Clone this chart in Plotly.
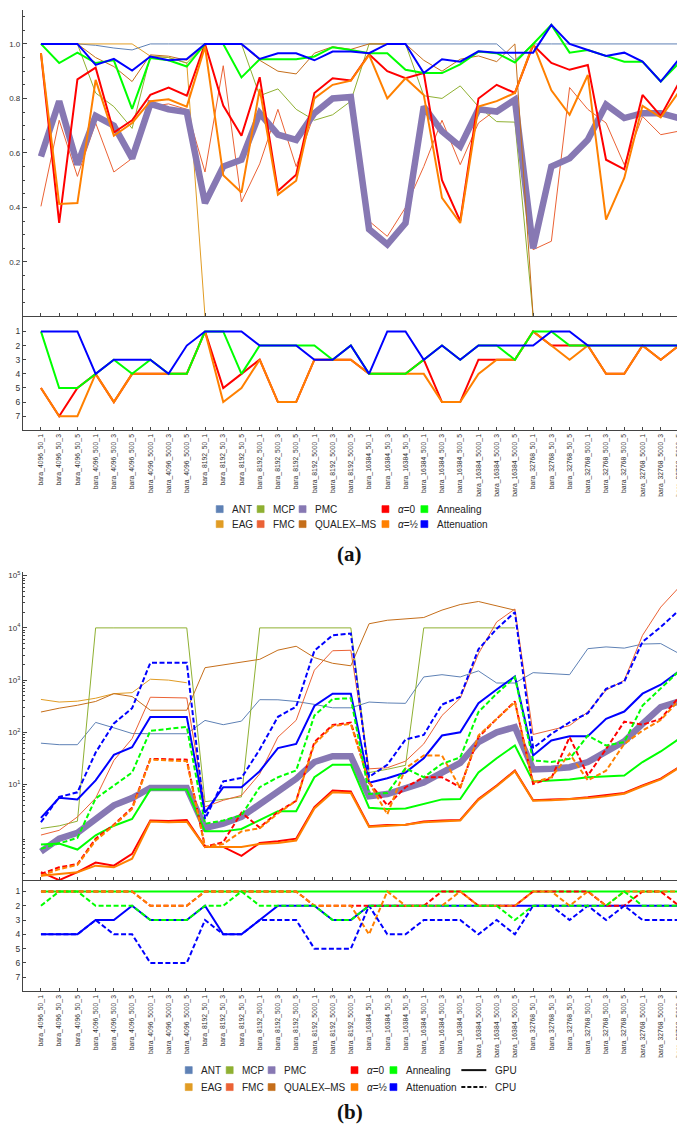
import plotly.graph_objects as go

W, H = 685, 1128

categories = [
    "bara_4096_50_1", "bara_4096_50_3", "bara_4096_50_5", "bara_4096_500_1", "bara_4096_500_3", "bara_4096_500_5", "bara_4096_5000_1", "bara_4096_5000_3", "bara_4096_5000_5",
    "bara_8192_50_1", "bara_8192_50_3", "bara_8192_50_5", "bara_8192_500_1", "bara_8192_500_3", "bara_8192_500_5", "bara_8192_5000_1", "bara_8192_5000_3", "bara_8192_5000_5",
    "bara_16384_50_1", "bara_16384_50_3", "bara_16384_50_5", "bara_16384_500_1", "bara_16384_500_3", "bara_16384_500_5", "bara_16384_5000_1", "bara_16384_5000_3", "bara_16384_5000_5",
    "bara_32768_50_1", "bara_32768_50_3", "bara_32768_50_5", "bara_32768_500_1", "bara_32768_500_3", "bara_32768_500_5", "bara_32768_5000_1", "bara_32768_5000_3", "bara_32768_5000_5",
]
N8 = [None] * 8

# ---------------- panel (a): quality ----------------
ant_a = [1.0, 1.0, 1.0, 0.995, 0.985, 0.978, 1.0, 1.0, 1.0,
         1.0, 1.0, 1.0, 1.0, 1.0, 1.0, 1.0, 1.0, 1.0,
         1.0, 1.0, 1.0, 1.0, 1.0, 1.0, 1.0, 1.0, 0.94,
         1.0, 1.0, 1.0, 1.0, 1.0, 1.0, 1.0, 1.0, 1.0]
eag_a = [1.0, 1.0, 1.0, 1.0, 1.0, 1.0, 0.955, 0.95, 0.93, 0.0] + [None] * 26
mcp_a = [1.0, 1.0, 1.0, 0.82, 0.77, 0.69, 0.955, 0.95, 0.93,
         1.0, 1.0, 1.0, 0.81, 0.835, 0.76, 0.72, 0.74, 0.79,
         1.0, 1.0, 1.0, 0.81, 0.80, 0.846, 0.77, 0.715, 0.713,
         0.0] + N8
fmc_a = [0.404, 0.72, 0.514, 0.71, 0.53, 0.58, 0.77, 0.78, 0.76,
         0.53, 0.92, 0.42, 0.56, 0.76, 0.55, 0.745, 0.80, 0.795,
         0.35, 0.294, 0.40, 0.55, 0.72, 0.557, 0.71, 0.76, 0.80,
         0.245, 0.276, 0.84, 0.76, 0.71, 0.557, 0.734, 0.667, 0.68]
pmc_a = [0.587, 0.79, 0.557, 0.736, 0.70, 0.58, 0.78, 0.76, 0.75,
         0.416, 0.55, 0.575, 0.746, 0.667, 0.648, 0.746, 0.80, 0.805,
         0.32, 0.264, 0.343, 0.77, 0.68, 0.624, 0.76, 0.752, 0.795,
         0.25, 0.55, 0.58, 0.648, 0.777, 0.728, 0.746, 0.746, 0.728]
qualex_a = [1.0, 1.0, 1.0, 0.95, 0.917, 0.862, 0.96, 0.955, 0.94,
            1.0, 1.0, 1.0, 0.94, 0.90, 0.89, 0.966, 0.99, 0.98,
            1.0, 1.0, 1.0, 0.94, 0.90, 0.944, 0.956, 0.935, 1.0,
            0.0] + N8
alpha0_a = [0.966, 0.343, 0.87, 0.913, 0.675, 0.72, 0.813, 0.84, 0.81,
            1.0, 0.774, 0.663, 0.878, 0.46, 0.52, 0.82, 0.874, 0.866,
            0.962, 0.90, 0.874, 0.893, 0.50, 0.35, 0.80, 0.85, 0.82,
            0.996, 0.93, 0.905, 0.923, 0.575, 0.54, 0.813, 0.736, 0.858]
alpha12_a = [0.966, 0.413, 0.416, 0.868, 0.663, 0.71, 0.79, 0.797, 0.77,
             0.99, 0.518, 0.455, 0.835, 0.447, 0.498, 0.80, 0.85, 0.865,
             0.96, 0.80, 0.874, 0.813, 0.435, 0.343, 0.77, 0.79, 0.82,
             1.0, 0.83, 0.74, 0.886, 0.355, 0.508, 0.773, 0.73, 0.825]
anneal_a = [1.0, 0.93, 0.968, 0.93, 0.94, 0.762, 0.948, 0.94, 0.917,
            1.0, 1.0, 0.877, 0.944, 0.944, 0.944, 0.954, 0.988, 0.978,
            0.966, 0.966, 0.905, 0.893, 0.893, 0.925, 0.972, 0.966, 0.932,
            1.0, 1.07, 0.968, 0.978, 0.956, 0.935, 0.935, 0.862, 0.93]
atten_a = [1.0, 1.0, 1.0, 0.923, 0.945, 0.902, 0.954, 0.94, 0.945,
           1.0, 1.0, 1.0, 0.945, 0.966, 0.966, 0.94, 0.972, 0.972,
           0.966, 1.0, 1.0, 0.893, 0.944, 0.935, 0.973, 0.968, 0.968,
           0.968, 1.07, 1.0, 0.978, 0.956, 0.968, 0.935, 0.862, 0.944]

rank_alpha0_a = [5, 7, 5, 4, 6, 4, 4, 4, 4, 1, 5, 4, 3, 6, 6, 3, 3, 3,
                 4, 4, 4, 3, 6, 6, 3, 3, 3, 1, 2, 2, 2, 4, 4, 2, 3, 2]
rank_alpha12_a = [5, 7, 7, 4, 6, 4, 4, 4, 4, 1, 6, 5, 3, 6, 6, 3, 3, 3,
                  4, 4, 4, 4, 6, 6, 4, 3, 3, 1, 2, 3, 2, 4, 4, 2, 3, 2]
rank_anneal_a = [1, 5, 5, 4, 3, 4, 3, 4, 4, 1, 1, 4, 2, 2, 2, 2, 3, 2,
                 4, 4, 4, 3, 2, 3, 2, 2, 3, 1, 1, 2, 2, 2, 2, 2, 2, 2]
rank_atten_a = [1, 1, 1, 4, 3, 3, 3, 4, 2, 1, 1, 1, 2, 2, 2, 3, 3, 2,
                4, 1, 1, 3, 2, 3, 2, 2, 2, 2, 1, 1, 2, 2, 2, 2, 2, 2]

# ---------------- panel (b): running time ----------------
ant_b = [62, 58, 58, 155, 122, 95, 94, 94, 94,
         169, 140, 164, 422, 420, 390, 343, 295, 295,
         380, 365, 359, 1150, 1270, 1150, 1500, 880, 880,
         1390, 1310, 1270, 4000, 4320, 4100, 4900, 5000, 3230]
eag_b = [427, 380, 395, 450, 550, 575, 1040, 1000, 890] + [None] * 27
mcp_b = [1.44, 1.62, 1.99, 1e4, 1e4, 1e4, 1e4, 1e4, 1e4,
         4.7, 5.2, 5.8, 1e4, 1e4, 1e4, 1e4, 1e4, 1e4,
         17, 19.6, 23.4, 1e4, 1e4, 1e4, 1e4, 1e4, 1e4] + [None] * 9
fmc_b = [1.08, 1.33, 2.4, 5.5, 29, 76, 470, 470, 455,
         3.75, 5.0, 6.2, 16, 81, 170, 1550, 3650, 3730,
         20, 21, 28, 60, 210, 450, 3200, 13000, 23000,
         91, 109, 135, 245, 640, 990, 7200, 25000, 59600]
pmc_b = [0.52, 0.92, 1.19, 2.2, 4.0, 5.5, 8.6, 8.6, 8.6,
         1.48, 1.78, 2.4, 4.3, 7.7, 12.9, 27, 35, 35,
         6.0, 6.6, 8.3, 11, 17, 26, 65, 100, 126,
         19.4, 20, 21.5, 27, 43, 67, 145, 305, 390]
qualex_b = [245, 290, 330, 390, 550, 485, 265, 265, 265,
            1730, 1960, 2220, 2500, 3750, 4450, 2700, 2100, 1880,
            12000, 14000, 15000, 15800, 21900, 28000, 32000, 26500, 21800] + [None] * 9
alpha0_gpu_b = [0.21, 0.148, 0.21, 0.32, 0.28, 0.47, 2.05, 2.0, 2.1,
                0.64, 0.64, 0.43, 0.76, 0.82, 0.92, 3.7, 7.7, 7.4,
                1.59, 1.68, 1.7, 1.96, 2.05, 2.1, 5.3, 9.6, 18.5,
                5.0, 5.2, 5.3, 5.7, 6.2, 6.9, 9.6, 13, 21.5]
alpha12_gpu_b = [0.18, 0.195, 0.21, 0.28, 0.26, 0.38, 1.96, 1.9, 1.95,
                 0.64, 0.64, 0.64, 0.73, 0.76, 0.85, 3.5, 7.1, 6.9,
                 1.55, 1.6, 1.7, 1.9, 2.0, 2.05, 5.1, 9.3, 18,
                 4.9, 5.0, 5.2, 5.5, 6.0, 6.7, 9.3, 12.6, 21]
anneal_gpu_b = [0.71, 0.74, 0.57, 1.07, 1.63, 2.2, 8, 8, 8,
                1.27, 1.27, 1.41, 2.1, 3.1, 3.1, 13.8, 24, 24,
                3.6, 3.4, 3.5, 4.3, 5.2, 5.3, 17, 32, 56,
                11.5, 12, 12.5, 13.8, 14.4, 14.9, 27, 43, 75]
atten_gpu_b = [2.3, 5.6, 5.2, 12, 37, 52, 197, 197, 197,
               2.9, 8.9, 8.9, 18, 50, 60, 320, 550, 550,
               10.8, 13.2, 17, 32, 87, 100, 360, 660, 1170,
               36, 70, 84, 84, 182, 250, 550, 815, 1480]
alpha0_cpu_b = [0.195, 0.26, 0.30, 0.92, 1.7, 3.6, 31, 30, 30,
                0.64, 0.79, 2.9, 1.5, 3.0, 4.9, 65, 138, 154,
                11, 4, 8.9, 13.8, 13.8, 8.9, 81, 181, 390,
                10.3, 13.2, 81, 14.9, 48, 160, 140, 181, 470]
alpha12_cpu_b = [0.18, 0.24, 0.29, 0.85, 1.65, 3.4, 30, 29, 28,
                 0.64, 0.73, 1.27, 1.46, 2.8, 4.9, 60, 132, 145,
                 11, 2.7, 20.5, 36, 36, 8.6, 87, 181, 380,
                 11, 13.8, 39, 12, 18.5, 60, 108, 172, 410]
anneal_cpu_b = [0.59, 0.74, 0.95, 5.4, 9.6, 17, 107, 117, 127,
                1.78, 2.05, 2.6, 8.9, 13.8, 18.6, 210, 435, 450,
                6.6, 6.9, 20.5, 13.8, 25, 33, 245, 550, 1140,
                29, 27, 31, 87, 56, 65, 325, 680, 1480]
atten_cpu_b = [1.9, 5.8, 7.1, 41, 148, 290, 2150, 2150, 2150,
               2.2, 11.5, 13.4, 47, 198, 310, 3650, 7200, 7800,
               14, 24, 73, 89, 340, 480, 3900, 9600, 20000,
               50, 93, 156, 233, 680, 940, 5400, 10400, 21700]

rank_anneal_gpu_b = [1] * 36
rank_atten_gpu_b = [4, 4, 4, 3, 3, 2, 3, 3, 3, 2, 4, 4, 3, 2, 2, 2, 3, 3,
                    2, 2, 2, 2, 2, 2, 2, 2, 2, 2, 2, 2, 2, 2, 2, 2, 2, 2]
rank_alpha0_cpu_b = [1, 1, 1, 1, 1, 1, 2, 2, 2, 1, 1, 1, 1, 1, 1, 2, 2, 2,
                     2, 2, 2, 2, 1, 1, 2, 2, 2, 1, 1, 1, 1, 2, 2, 1, 1, 2]
rank_alpha12_cpu_b = [1, 1, 1, 1, 1, 1, 2, 2, 2, 1, 1, 1, 1, 1, 1, 2, 2, 2,
                      4, 1, 2, 2, 2, 1, 2, 2, 2, 1, 1, 2, 1, 2, 1, 1, 1, 1]
rank_anneal_cpu_b = [2, 1, 1, 2, 2, 2, 3, 3, 3, 2, 2, 1, 2, 2, 2, 2, 3, 3,
                     2, 2, 2, 2, 2, 2, 2, 2, 3, 2, 2, 2, 2, 2, 1, 2, 2, 2]
rank_atten_cpu_b = [4, 4, 4, 3, 4, 4, 6, 6, 6, 3, 4, 4, 3, 3, 3, 5, 5, 5,
                    2, 4, 4, 3, 3, 3, 4, 3, 4, 2, 2, 3, 2, 3, 2, 3, 3, 3]

legend_row1 = ["ANT", "MCP", "PMC", "<i>α</i>=0", "Annealing"]
legend_row2 = ["EAG", "FMC", "QUALEX\u2013MS", "<i>α</i>=½", "Attenuation"]

# ---------------- styling ----------------
C = {"ANT": "#5E81B5", "EAG": "#E19C24", "MCP": "#8FB032", "FMC": "#EB6235",
     "PMC": "#8778B3", "QUALEX": "#C56E1A", "A0": "#FF0000", "A12": "#FF8000",
     "ANN": "#00FF00", "ATT": "#0000FF"}
AX = "#444444"
DASH = "5px,2.5px"
FONT = "Liberation Sans, Arial, sans-serif"

fig = go.Figure()


def add(y, color, width, xa, ya, dash=None):
    fig.add_trace(go.Scatter(x=categories, y=y, mode="lines",
                             line=dict(color=color, width=width, dash=dash),
                             xaxis=xa, yaxis=ya, showlegend=False,
                             hoverinfo="skip"))


# panel (a) main
add(ant_a, C["ANT"], 1, "x", "y")
add(eag_a, C["EAG"], 1, "x", "y")
add(mcp_a, C["MCP"], 1, "x", "y")
add(fmc_a, C["FMC"], 1, "x", "y")
add(pmc_a, C["PMC"], 6.5, "x", "y")
add(qualex_a, C["QUALEX"], 1, "x", "y")
add(alpha0_a, C["A0"], 2, "x", "y")
add(alpha12_a, C["A12"], 2, "x", "y")
add(anneal_a, C["ANN"], 2, "x", "y")
add(atten_a, C["ATT"], 2, "x", "y")
# panel (a) ranks
add(rank_alpha0_a, C["A0"], 2, "x2", "y2")
add(rank_alpha12_a, C["A12"], 2, "x2", "y2")
add(rank_anneal_a, C["ANN"], 2, "x2", "y2")
add(rank_atten_a, C["ATT"], 2, "x2", "y2")

# panel (b) main
add(ant_b, C["ANT"], 1, "x3", "y3")
add(eag_b, C["EAG"], 1, "x3", "y3")
add(mcp_b, C["MCP"], 1, "x3", "y3")
add(fmc_b, C["FMC"], 1, "x3", "y3")
add(pmc_b, C["PMC"], 6.5, "x3", "y3")
add(qualex_b, C["QUALEX"], 1, "x3", "y3")
add(alpha0_gpu_b, C["A0"], 2, "x3", "y3")
add(alpha12_gpu_b, C["A12"], 2, "x3", "y3")
add(anneal_gpu_b, C["ANN"], 2, "x3", "y3")
add(atten_gpu_b, C["ATT"], 2, "x3", "y3")
add(alpha0_cpu_b, C["A0"], 2, "x3", "y3", DASH)
add(alpha12_cpu_b, C["A12"], 2, "x3", "y3", DASH)
add(anneal_cpu_b, C["ANN"], 2, "x3", "y3", DASH)
add(atten_cpu_b, C["ATT"], 2, "x3", "y3", DASH)
# panel (b) ranks
add(rank_atten_gpu_b, C["ATT"], 2, "x4", "y4")
add(rank_anneal_gpu_b, C["ANN"], 2, "x4", "y4")
add(rank_alpha0_cpu_b, C["A0"], 2, "x4", "y4", DASH)
add(rank_alpha12_cpu_b, C["A12"], 2, "x4", "y4", DASH)
add(rank_atten_cpu_b, C["ATT"], 2, "x4", "y4", DASH)
add(rank_anneal_cpu_b, C["ANN"], 2, "x4", "y4", DASH)


def fy(py):
    return 1 - py / H


def fx(px):
    return px / W


XDOM = [fx(14), 1.0]
XRANGE = [-0.986, 35.77]


def xax(anchor, labels):
    d = dict(type="category", domain=XDOM, range=XRANGE, anchor=anchor,
             showline=True, linecolor=AX, linewidth=1.2, ticks="inside",
             ticklen=3, tickcolor=AX, showgrid=False, zeroline=False,
             showticklabels=labels)
    if labels:
        d.update(tickangle=-90, tickfont=dict(size=6.8, color="#333", family=FONT))
    return d


def rank_y(dom, rng, anchor):
    return dict(domain=dom, range=rng, anchor=anchor, tickvals=[1, 2, 3, 4, 5, 6, 7],
                ticks="inside", ticklen=3, tickcolor=AX, showline=True,
                linecolor=AX, linewidth=1.2, showgrid=False, zeroline=False,
                tickfont=dict(size=8.5, color="#333", family=FONT))


minor_log = [v * 10 ** e for e in range(-1, 5) for v in range(2, 10)]

fig.update_layout(
    width=W, height=H, margin=dict(l=0, r=0, t=0, b=0),
    paper_bgcolor="white", plot_bgcolor="white",
    font=dict(family=FONT, size=8, color="#333"),
    xaxis=xax("y", False), xaxis2=xax("y2", True),
    xaxis3=xax("y3", False), xaxis4=xax("y4", True),
    yaxis=dict(domain=[fy(307), 1.0], range=[0, 1.1245], anchor="x",
               tickvals=[0.2, 0.4, 0.6, 0.8, 1.0], ticktext=["0.2", "0.4", "0.6", "0.8", "1.0"],
               ticks="inside", ticklen=4, tickcolor=AX, showline=True, linecolor=AX,
               linewidth=1.2, showgrid=False, zeroline=False,
               minor=dict(dtick=0.05, ticks="inside", ticklen=2, tickcolor=AX),
               tickfont=dict(size=8, color="#333", family=FONT)),
    yaxis2=rank_y([fy(421), fy(308)], [7.99, 0.012], "x2"),
    yaxis3=dict(type="log", domain=[fy(872), fy(563)], range=[-0.836, 5.07], anchor="x3",
                tickvals=[10, 100, 1000, 10000, 100000],
                ticktext=["10<sup>1</sup>", "10<sup>2</sup>", "10<sup>3</sup>", "10<sup>4</sup>", "10<sup>5</sup>"],
                ticks="inside", ticklen=4, tickcolor=AX, showline=True, linecolor=AX,
                linewidth=1.2, showgrid=False, zeroline=False,
                minor=dict(tickvals=minor_log, ticks="inside", ticklen=2, tickcolor=AX),
                tickfont=dict(size=8, color="#333", family=FONT)),
    yaxis4=rank_y([fy(983), fy(873)], [7.98, 0.302], "x4"),
)

shapes = []
annotations = []


def legend_block(sq_x, rows_y, rows):
    for ry, labels in zip(rows_y, rows):
        for sx, (lab, col) in zip(sq_x, labels):
            shapes.append(dict(type="rect", xref="paper", yref="paper",
                               x0=fx(sx - 3.5), x1=fx(sx + 3.5), y0=fy(ry + 3.5), y1=fy(ry - 3.5),
                               fillcolor=col, line=dict(color=col, width=0.6)))
            annotations.append(dict(x=fx(sx + 10.5), y=fy(ry), xref="paper", yref="paper",
                                    text=lab, showarrow=False, xanchor="left", yanchor="middle",
                                    font=dict(size=10, color="#222", family=FONT)))


row1_cols = [C["ANT"], C["MCP"], C["PMC"], C["A0"], C["ANN"]]
row2_cols = [C["EAG"], C["FMC"], C["QUALEX"], C["A12"], C["ATT"]]
rows = [list(zip(legend_row1, row1_cols)), list(zip(legend_row2, row2_cols))]

legend_block([211, 252, 294, 377, 416], [500, 515], rows)
legend_block([180, 221, 263, 346, 385], [1062, 1079], rows)

# GPU / CPU line samples
for ry, lab, dash in [(1062, "GPU", "solid"), (1079, "CPU", "4px,2px")]:
    shapes.append(dict(type="line", xref="paper", yref="paper", x0=fx(453), x1=fx(478),
                       y0=fy(ry), y1=fy(ry), line=dict(color="#111", width=2, dash=dash)))
    annotations.append(dict(x=fx(485), y=fy(ry), xref="paper", yref="paper", text=lab,
                            showarrow=False, xanchor="left", yanchor="middle",
                            font=dict(size=10, color="#222", family=FONT)))

for txt, py in [("(a)", 545), ("(b)", 1104)]:
    annotations.append(dict(x=fx(341), y=fy(py), xref="paper", yref="paper",
                            text="<b>" + txt + "</b>", showarrow=False,
                            xanchor="center", yanchor="middle",
                            font=dict(size=21, color="#111",
                                      family="Liberation Serif, Times New Roman, serif")))

fig.update_layout(shapes=shapes, annotations=annotations)
fig.write_html("out.html")
